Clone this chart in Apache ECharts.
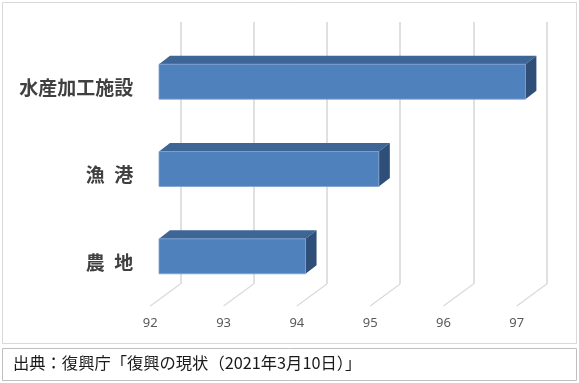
<!DOCTYPE html>
<html>
<head>
<meta charset="utf-8">
<script src="https://cdn.jsdelivr.net/npm/echarts@6/dist/echarts.min.js"></script>
<style>
html,body{margin:0;padding:0;background:#fff;}
#chart{width:579px;height:383px;}
</style>
</head>
<body>
<div id="chart"></div>
<script>
const categories = ['水産加工施設', '漁\u2002港', '農\u2002地'];
const values = [97, 95, 94];
const xTicks = [92, 93, 94, 95, 96, 97];
const xMin = 92, xMax = 97, xStep = 1;
const sourceText = '出典：復興庁「復興の現状（2021年3月10日）」';

const FRONT = '#4F81BD', TOP = '#3D6596', SIDE = '#2F4F79';
const GRID_COLOR = '#D9D9D9';
const DEPTH_X = 11, DEPTH_Y = 8.5;
const FLOOR_DX = 30, FLOOR_DY = 22;

const chart = echarts.init(document.getElementById('chart'), null, {renderer: 'canvas'});

function xAxisBase(gridIndex) {
  return {
    type: 'value', gridIndex, min: xMin, max: xMax, interval: xStep,
    axisLine: {show: false}, axisTick: {show: false},
    axisLabel: {show: false}, splitLine: {show: false}
  };
}
function yAxisBase(gridIndex) {
  return {
    type: 'category', gridIndex, data: categories, inverse: true,
    axisLine: {show: false}, axisTick: {show: false},
    axisLabel: {show: false}, splitLine: {show: false}
  };
}

const xA = xAxisBase(0);
xA.splitLine = {show: true, lineStyle: {color: GRID_COLOR, width: 1.6}};
const xB = xAxisBase(1);
const xC = xAxisBase(2);
xC.axisLabel = {show: true, margin: 11, color: '#595959', fontSize: 13, fontFamily: 'Noto Sans'};
const yA = yAxisBase(0), yB = yAxisBase(1), yC = yAxisBase(2);
yC.axisLabel = {show: true, margin: 17, color: '#404040', fontSize: 19, fontWeight: 'bold', fontFamily: 'Noto Sans CJK JP'};

const option = {
  animation: false,
  backgroundColor: '#ffffff',
  grid: [
    {left: 180.3, right: 32.3, top: 22, bottom: 99, containLabel: false, outerBoundsMode: 'none'},
    {left: 159, right: 53.6, top: 38, bottom: 83, containLabel: false, outerBoundsMode: 'none'},
    {left: 150.3, right: 62.3, top: 44, bottom: 77, containLabel: false, outerBoundsMode: 'none'}
  ],
  xAxis: [xA, xB, xC],
  yAxis: [yA, yB, yC],
  graphic: [
    {type: 'rect', shape: {x: 2.5, y: 2.5, width: 574, height: 341}, style: {fill: 'none', stroke: '#D9D9D9', lineWidth: 1}, z: -1},
    {type: 'rect', shape: {x: 2.5, y: 348.5, width: 574, height: 32}, style: {fill: 'none', stroke: '#BFBFBF', lineWidth: 1}, z: -1},
    {type: 'text', left: 13, top: 355, style: {text: sourceText, fill: '#1a1a1a', font: '16.3px "Noto Sans CJK JP"'}}
  ],
  series: [
    {
      type: 'custom', xAxisIndex: 2, yAxisIndex: 2, z: 1,
      data: xTicks.map(t => [t, 0]),
      renderItem: function (params, api) {
        const x = api.coord([api.value(0), 0])[0];
        const bottom = params.coordSys.y + params.coordSys.height;
        return {type: 'line', shape: {x1: x, y1: bottom, x2: x + FLOOR_DX, y2: bottom - FLOOR_DY},
          style: {stroke: GRID_COLOR, lineWidth: 1.2}};
      }
    },
    {
      type: 'custom', xAxisIndex: 1, yAxisIndex: 1, z: 5,
      data: values.map((v, i) => [v, i]),
      renderItem: function (params, api) {
        const v = api.value(0), c = api.value(1);
        const s = api.coord([xMin, c]);
        const e = api.coord([v, c]);
        const h = api.size([0, 1])[1] * 0.4;
        const x0 = s[0], x1 = e[0], yT = s[1] - h / 2, yB = s[1] + h / 2;
        return {type: 'group', children: [
          {type: 'polygon', shape: {points: [[x0, yT], [x1, yT], [x1 + DEPTH_X, yT - DEPTH_Y], [x0 + DEPTH_X, yT - DEPTH_Y]]}, style: {fill: TOP}},
          {type: 'polygon', shape: {points: [[x1, yT], [x1 + DEPTH_X, yT - DEPTH_Y], [x1 + DEPTH_X, yB - DEPTH_Y], [x1, yB]]}, style: {fill: SIDE}},
          {type: 'rect', shape: {x: x0, y: yT, width: x1 - x0, height: h}, style: {fill: FRONT, stroke: '#7DA0CF', lineWidth: 0.8}}
        ]};
      }
    }
  ]
};
chart.setOption(option);
</script>
</body>
</html>
